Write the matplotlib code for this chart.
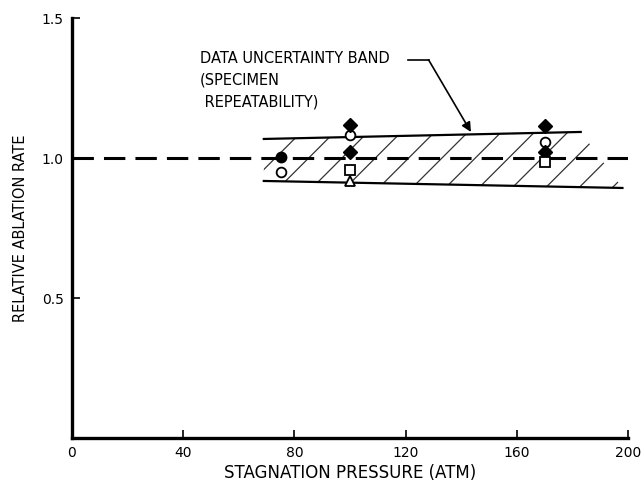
import matplotlib
matplotlib.use("Agg")
import matplotlib.pyplot as plt
from matplotlib.patches import Polygon

plt.rcParams['font.family'] = ['DejaVu Sans']
plt.rcParams['hatch.linewidth'] = 0.9

# data
x_ticks = [0, 40, 80, 120, 160, 200]
y_ticks = [0.5, 1.0, 1.5]
y_tick_labels = ['0.5', '1.0', '1.5']

filled_circle_x = [75]
filled_circle_y = [1.005]
open_circle_x = [75, 100, 170]
open_circle_y = [0.95, 1.082, 1.057]
filled_diamond_x = [100, 100, 170, 170]
filled_diamond_y = [1.118, 1.021, 1.114, 1.021]
open_square_x = [100, 170]
open_square_y = [0.957, 0.986]
open_triangle_x = [100]
open_triangle_y = [0.918]

# uncertainty band edges
band_upper_x = [69, 183]
band_upper_y = [1.068, 1.093]
band_lower_x = [69, 198]
band_lower_y = [0.918, 0.893]

band_text = ['DATA UNCERTAINTY BAND', '(SPECIMEN', ' REPEATABILITY)']

fig = plt.figure(figsize=(6.41, 4.87), dpi=100)
ax = fig.add_axes([72/641, 49/487, 556/641, 420/487])

ax.set_xlim(0, 200)
ax.set_ylim(0, 1.5)

# reference line at 1.0
ax.plot([0, 200], [1.0, 1.0], color='black', lw=2.2, dashes=(7, 3.3), zorder=2)

# hatched band
verts = list(zip(band_upper_x, band_upper_y)) + list(zip(band_lower_x[::-1], band_lower_y[::-1]))
band = Polygon(verts, closed=True, fill=False, hatch='/', edgecolor='#333333', lw=0, zorder=1)
ax.add_patch(band)
ax.plot(band_upper_x, band_upper_y, color='black', lw=1.6, zorder=2)
ax.plot(band_lower_x, band_lower_y, color='black', lw=1.6, zorder=2)

# data points
ax.plot(filled_circle_x, filled_circle_y, 'o', ms=7.5, mfc='black', mec='black', zorder=4)
ax.plot(open_circle_x, open_circle_y, 'o', ms=7, mfc='white', mec='black', mew=1.3, zorder=4)
ax.plot(filled_diamond_x, filled_diamond_y, 'D', ms=7.5, mfc='black', mec='black', zorder=4)
ax.plot(open_square_x, open_square_y, 's', ms=6.5, mfc='white', mec='black', mew=1.3, zorder=4)
ax.plot(open_triangle_x, open_triangle_y, '^', ms=7.5, mfc='white', mec='black', mew=1.3, zorder=4)

# annotation
ax.text(46, 1.357, band_text[0], fontsize=10.5, va='center', ha='left')
ax.text(46, 1.279, band_text[1], fontsize=10.5, va='center', ha='left')
ax.text(46, 1.200, band_text[2], fontsize=10.5, va='center', ha='left')
ax.plot([121, 128.3], [1.35, 1.35], color='black', lw=1.2)
ax.annotate('', xy=(143.5, 1.093), xytext=(128.3, 1.35),
            arrowprops=dict(arrowstyle='-|>', color='black', lw=1.2,
                            mutation_scale=14, shrinkA=0, shrinkB=0))

# axes styling
for side in ['top', 'right']:
    ax.spines[side].set_visible(False)
ax.spines['left'].set_linewidth(2.4)
ax.spines['bottom'].set_linewidth(2.4)

ax.set_xticks(x_ticks)
ax.set_yticks(y_ticks)
ax.set_yticklabels(y_tick_labels)
ax.tick_params(axis='both', direction='in', length=6, width=1.2, labelsize=10, pad=6)

ax.set_xlabel('STAGNATION PRESSURE (ATM)', fontsize=12, labelpad=3)
ax.set_ylabel('RELATIVE ABLATION RATE', fontsize=10.5, labelpad=10)

fig.savefig('out.png', dpi=100)
